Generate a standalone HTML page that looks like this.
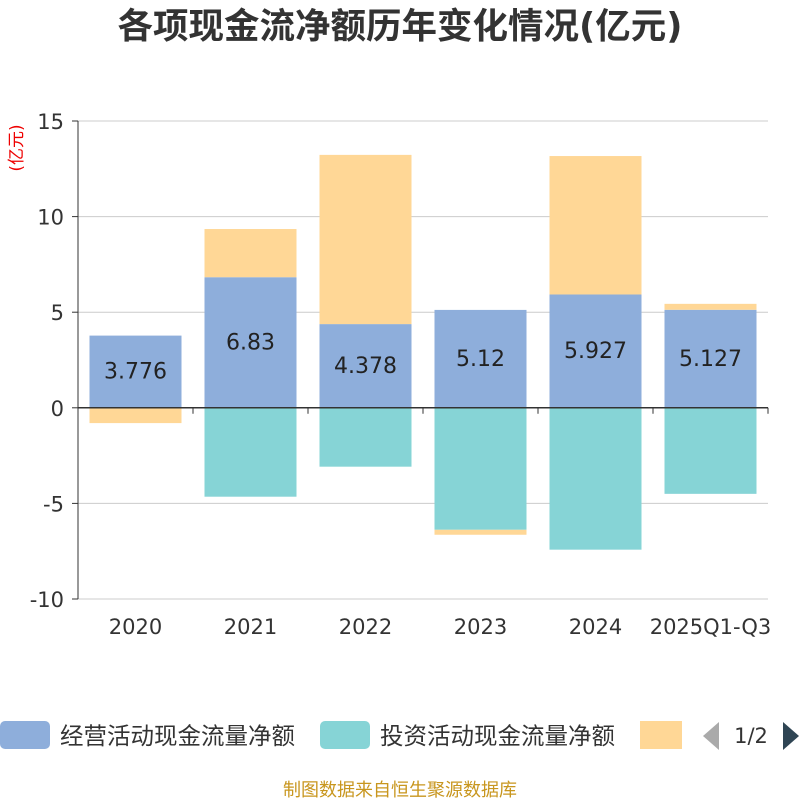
<!DOCTYPE html>
<html><head><meta charset="utf-8">
<style>
body{margin:0;background:#fff;}
svg text{font-family:"DejaVu Sans","Noto Sans CJK SC",sans-serif;}
</style></head>
<body>
<svg id="c" width="800" height="800" viewBox="0 0 800 800" xmlns="http://www.w3.org/2000/svg">
<text x="400" y="38" text-anchor="middle" font-size="35.5" font-weight="bold" fill="#333">各项现金流净额历年变化情况(亿元)</text>
<text transform="translate(22,148) rotate(-90)" text-anchor="middle" font-size="17" fill="#e00">(亿元)</text>
<g id="grid"></g><g id="bars"></g><g id="axes"></g>
<g>
<rect x="0" y="721" width="50" height="28" rx="5" fill="#8eaedb"/>
<text x="60" y="744" font-size="23.5" fill="#333">经营活动现金流量净额</text>
<rect x="320" y="721" width="50" height="28" rx="5" fill="#86d4d6"/>
<text x="380" y="744" font-size="23.5" fill="#333">投资活动现金流量净额</text>
<rect x="640" y="721" width="42" height="28" fill="#ffd796"/>
<polygon points="719,722 719,750 703,736" fill="#aaa"/>
<text x="751" y="743" text-anchor="middle" font-size="21" fill="#333">1/2</text>
<polygon points="783,722 783,750 799,736" fill="#2f4554"/>
</g>
<text x="400" y="796" text-anchor="middle" font-size="18" fill="#c8961e">制图数据来自恒生聚源数据库</text>
</svg>
<script>
const categories=["2020","2021","2022","2023","2024","2025Q1-Q3"];
const operating=[3.776,6.83,4.378,5.12,5.927,5.127];
const investing=[0,-4.65,-3.08,-6.38,-7.42,-4.5];
const financing=[-0.8,2.52,8.85,-0.26,7.24,0.31];
const yTicks=[15,10,5,0,-5,-10];
const NS="http://www.w3.org/2000/svg";
const x0=78,x1=768,yTop=121,yBot=599,vMax=15,vMin=-10;
const y=v=>yTop+(vMax-v)*(yBot-yTop)/(vMax-vMin);
const bw=(x1-x0)/categories.length;
const cx=i=>x0+bw*(i+0.5);
function mk(tag,attrs,parent){const e=document.createElementNS(NS,tag);for(const k in attrs)e.setAttribute(k,attrs[k]);document.getElementById(parent).appendChild(e);return e;}
yTicks.forEach(t=>{
 const l=mk('line',{x1:x0,x2:x1,y1:y(t),y2:y(t),stroke:t===0?'#333':'#ccc','stroke-width':t===0?1.5:1},t===0?'axes':'grid');
 
 
 const tk=mk('line',{x1:x0-6,x2:x0,y1:y(t),y2:y(t),stroke:'#333'},'axes');
 
 
 const tx=mk('text',{x:x0-14,y:y(t)+8,'text-anchor':'end','font-size':21,fill:'#333'},'axes');
 tx.textContent=t;
 
 
});
const ya=mk('line',{x1:x0,x2:x0,y1:yTop,y2:yBot,stroke:'#333'},'axes');


for(let i=0;i<=categories.length;i++){
 const t=mk('line',{x1:x0+bw*i,x2:x0+bw*i,y1:y(0),y2:y(0)+6,stroke:'#333'},'axes');
 
 
}
function bar(i,a,b,color,name){
 const r=mk('rect',{x:cx(i)-46,width:92,y:Math.min(y(a),y(b)),height:Math.abs(y(a)-y(b)),fill:color},'bars');
 
 
}
categories.forEach((c,i)=>{
 let pos=0,neg=0;
 const o=operating[i];
 if(o>=0){bar(i,pos,pos+o,'#8eaedb','bar-operating-'+c);pos+=o;}else{bar(i,neg,neg+o,'#8eaedb','bar-operating-'+c);neg+=o;}
 const v=investing[i];
 if(v>=0){bar(i,pos,pos+v,'#86d4d6','bar-investing-'+c);pos+=v;}else{bar(i,neg,neg+v,'#86d4d6','bar-investing-'+c);neg+=v;}
 const f=financing[i];
 if(f>=0){bar(i,pos,pos+f,'#ffd796','bar-financing-'+c);pos+=f;}else{bar(i,neg,neg+f,'#ffd796','bar-financing-'+c);neg+=f;}
 const lb=mk('text',{x:cx(i),y:y(o/2)+7,'text-anchor':'middle','font-size':22,fill:'#222'},'bars');
 lb.textContent=o;
 
 
 const xl=mk('text',{x:cx(i),y:634,'text-anchor':'middle','font-size':21,fill:'#333'},'axes');
 xl.textContent=c;
 
 
});
</script>
</body></html>
